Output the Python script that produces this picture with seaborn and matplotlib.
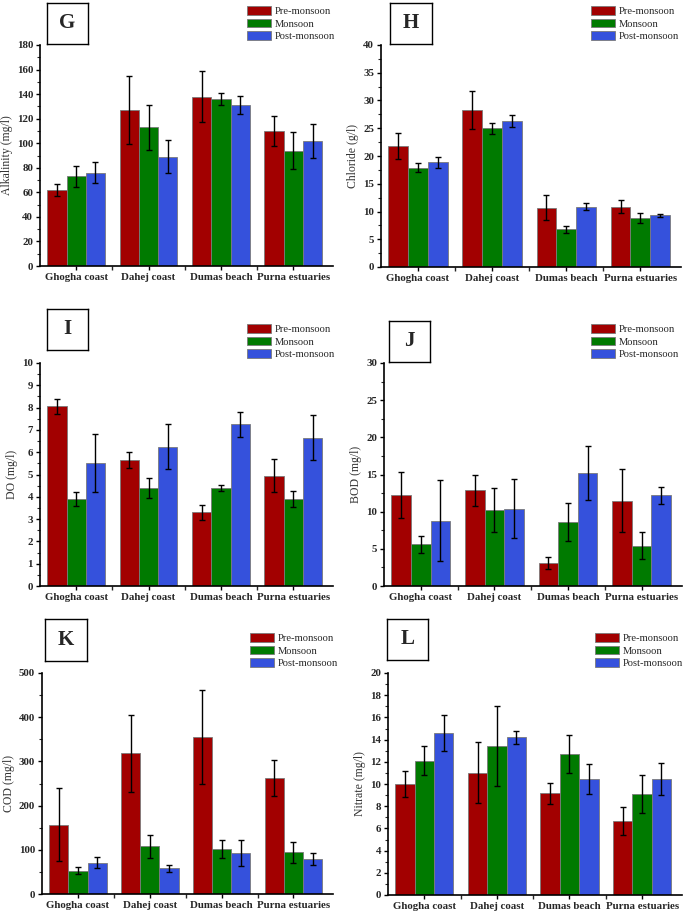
import numpy as np
import pandas as pd
import matplotlib
matplotlib.use('Agg')
import matplotlib.pyplot as plt
import seaborn as sns
from matplotlib.patches import Patch
from matplotlib.ticker import AutoMinorLocator, FixedLocator

sites = ['Ghogha coast', 'Dahej coast', 'Dumas beach', 'Purna estuaries']
seasons = ['Pre-monsoon', 'Monsoon', 'Post-monsoon']
colors = ['#A20000', '#007A00', '#3551DC']

# values per season (rows: pre, monsoon, post), columns follow sites
alk_mean = [[62, 127, 138, 110], [73, 113, 136, 94], [76, 89, 131, 102]]
alk_err = [[5, 27.5, 21, 12], [8.5, 18.5, 5, 15], [8.5, 13.5, 7.5, 14]]

chl_mean = [[21.8, 28.3, 10.7, 10.9], [17.9, 25.0, 6.8, 8.8], [18.9, 26.3, 10.9, 9.3]]
chl_err = [[2.4, 3.5, 2.2, 1.15], [0.8, 1.0, 0.6, 0.95], [1.0, 1.0, 0.65, 0.3]]

do_mean = [[8.05, 5.65, 3.3, 4.95], [3.9, 4.4, 4.4, 3.9], [5.5, 6.25, 7.25, 6.65]]
do_err = [[0.35, 0.35, 0.33, 0.73], [0.3, 0.45, 0.15, 0.35], [1.3, 1.0, 0.55, 1.0]]

bod_mean = [[12.2, 12.9, 3.1, 11.5], [5.6, 10.2, 8.6, 5.4], [8.8, 10.4, 15.2, 12.2]]
bod_err = [[3.1, 2.1, 0.75, 4.25], [1.1, 3.0, 2.6, 1.8], [5.4, 3.95, 3.6, 1.15]]

cod_mean = [[157, 318, 355, 262], [53, 108, 102, 94], [71, 58, 93, 79]]
cod_err = [[82, 88, 106, 41], [7.5, 26, 21, 24.5], [13, 8, 29, 13.5]]

nit_mean = [[10.0, 11.0, 9.15, 6.7], [12.1, 13.4, 12.7, 9.1], [14.6, 14.2, 10.45, 10.45]]
nit_err = [[1.2, 2.75, 0.95, 1.25], [1.3, 3.6, 1.75, 1.7], [1.65, 0.6, 1.35, 1.45]]

sns.set_style('ticks')
plt.rcParams['font.family'] = ['Liberation Serif', 'DejaVu Serif']

W, H = 685, 914
fig = plt.figure(figsize=(W / 100, H / 100), dpi=100)


def px_axes(left, right, top, bottom):
    return fig.add_axes([left / W, 1 - bottom / H, (right - left) / W, (bottom - top) / H])


def panel(rect, letter, box, legpos, mean, err, ylabel, ymax, ystep):
    ax = px_axes(*rect)
    df = pd.DataFrame([
        {'site': sites[j], 'season': seasons[i], 'value': mean[i][j]}
        for i in range(3) for j in range(4)
    ])
    sns.barplot(data=df, x='site', y='value', hue='season', order=sites,
                hue_order=seasons, palette=colors, saturation=1, width=0.8,
                errorbar=None, legend=False, edgecolor='#7a7a7a',
                linewidth=0.6, ax=ax)
    bw = 0.8 / 3
    for p in ax.patches:
        cx = p.get_x() + p.get_width() / 2
        j = int(round(cx))
        i = int(round((cx - j) / bw)) + 1
        ax.errorbar(cx, p.get_height(), yerr=err[i][j], fmt='none',
                    ecolor='black', elinewidth=1.0, capsize=2.2, capthick=1.0)
    ax.set_xlim(-0.5, 3.55)
    ax.set_ylim(0, ymax)
    ax.set_yticks(np.arange(0, ymax + ystep / 2, ystep))
    ax.yaxis.set_minor_locator(AutoMinorLocator(2))
    ax.xaxis.set_minor_locator(FixedLocator([0.5, 1.5, 2.5]))
    ax.set_xlabel('')
    ax.set_ylabel(ylabel, fontsize=8.5, color='#333333', labelpad=3)
    sns.despine(ax=ax)
    for s in ['left', 'bottom']:
        ax.spines[s].set_linewidth(1.2)
        ax.spines[s].set_color('black')
    ax.tick_params(axis='both', which='major', direction='out', length=3,
                   width=1.0, labelsize=7.8, pad=2, color='black')
    ax.tick_params(axis='y', which='minor', direction='out', length=2, width=0.8)
    ax.tick_params(axis='x', which='minor', direction='out', length=3, width=1.0)
    for lab in ax.get_xticklabels() + ax.get_yticklabels():
        lab.set_fontweight('bold')
    ax.tick_params(axis='x', labelsize=7.8)

    # panel letter box
    bx0, bx1, by0, by1 = box
    bax = px_axes(bx0, bx1, by0, by1)
    bax.set_xticks([])
    bax.set_yticks([])
    for s in bax.spines.values():
        s.set_linewidth(1.0)
        s.set_color('black')
    bax.text(0.5, 0.5, letter, ha='center', va='center', fontsize=15,
             fontweight='bold', transform=bax.transAxes)

    handles = [Patch(facecolor=c, edgecolor='#7a7a7a', linewidth=0.6) for c in colors]
    fig.legend(handles, seasons, loc='upper left',
               bbox_to_anchor=(legpos[0] / W, 1 - legpos[1] / H),
               bbox_transform=fig.transFigure, frameon=False, fontsize=7.6,
               handlelength=2.3, handleheight=0.9, labelspacing=0.25,
               handletextpad=0.35, borderpad=0, borderaxespad=0)


panel((40, 333, 45, 266), 'G', (47, 88, 3, 44), (247, 6), alk_mean, alk_err,
      'Alkalinity (mg/l)', 180, 20)
panel((381, 681, 45, 267), 'H', (390, 432, 3, 44), (591, 6), chl_mean, chl_err,
      'Chloride (g/l)', 40, 5)
panel((40, 333, 363, 586), 'I', (47, 88, 309, 350), (247, 324), do_mean, do_err,
      'DO (mg/l)', 10, 1)
panel((384, 682, 363, 586), 'J', (389, 430, 321, 362), (591, 324), bod_mean, bod_err,
      'BOD (mg/l)', 30, 5)
panel((42, 333, 673, 894), 'K', (45, 87, 619, 661), (250, 633), cod_mean, cod_err,
      'COD (mg/l)', 500, 100)
panel((388, 682, 673, 895), 'L', (387, 428, 619, 660), (595, 633), nit_mean, nit_err,
      'Nitrate (mg/l)', 20, 2)

fig.savefig('out.png', dpi=100)
